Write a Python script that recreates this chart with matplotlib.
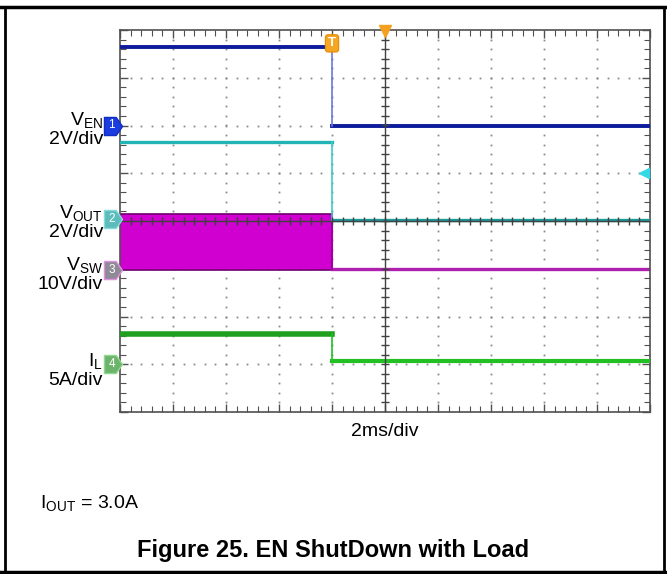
import numpy as np
import matplotlib
matplotlib.use('Agg')
import matplotlib.pyplot as plt
from matplotlib.path import Path

plt.rcParams['font.family'] = ['Liberation Sans', 'DejaVu Sans']
plt.rcParams['mathtext.fontset'] = 'custom'
plt.rcParams['mathtext.rm'] = 'Liberation Sans'
plt.rcParams['mathtext.it'] = 'Liberation Sans'

# scope screen is 10 x 8 divisions, time of EN falling edge in divisions
t_edge = 4.0
t_end = 10.0

# channel levels in divisions (before edge, after edge)
ven_level = [7.65, 6.0]
vout_level = [5.65, 4.03]
vsw_low = [2.97, 3.0]
vsw_high = 4.15
il_level = [1.64, 1.06]

# channel ground markers (divisions)
ch_names = ['1', '2', '3', '4']
ch_ground = [6.0, 4.05, 2.97, 1.0]
ch_face = ['#1a3ce0', '#5cbcbc', '#8e8a96', '#6cb46c']
ch_edge = ['#1030c0', '#88dada', '#e090e0', '#90d890']

labels = [r'$\mathrm{V_{EN}}$' + '\n2V/div',
          r'$\mathrm{V_{OUT}}$' + '\n2V/div',
          r'$\mathrm{V_{SW}}$' + '\n10V/div',
          r'$\mathrm{I_{L}}$' + '\n5A/div']
label_y = [129, 222, 274, 370]

fig = plt.figure(figsize=(6.67, 5.74), dpi=100)
W, H = 667, 574
ax = fig.add_axes([120 / W, 1 - 412 / H, 530 / W, 382 / H])
ax.set_xlim(0, 10)
ax.set_ylim(0, 8)

# graticule dots
for gx in range(1, 10):
    if gx == 5:
        continue
    ys = np.arange(0.2, 8, 0.2)
    ax.plot(np.full_like(ys, gx), ys, ls='none', marker='s', ms=1.3,
            color='#8a8a8a', mew=0, zorder=1)
for gy in range(1, 8):
    if gy == 4:
        continue
    xs = np.arange(0.2, 10, 0.2)
    ax.plot(xs, np.full_like(xs, gy), ls='none', marker='s', ms=1.3,
            color='#8a8a8a', mew=0, zorder=1)

# traces
ax.plot([0, t_edge], [ven_level[0]] * 2, color='#0c1c9c', lw=2.8, zorder=3)
ax.plot([t_edge, t_end], [ven_level[1]] * 2, color='#0c1c9c', lw=2.8, zorder=3)
ax.plot([t_edge, t_edge], ven_level, color='#6a78d8', lw=1.2, zorder=3)

ax.plot([0, t_edge], [vout_level[0]] * 2, color='#22b4b4', lw=2.4, zorder=3)
ax.plot([t_edge, t_end], [vout_level[1]] * 2, color='#1a9a9a', lw=2.4, zorder=3)
ax.plot([t_edge, t_edge], vout_level, color='#40c8c8', lw=1.2, zorder=3)

ax.fill_between([0, t_edge], [vsw_low[0]] * 2, [vsw_high] * 2,
                color='#d000d0', lw=0, zorder=2)
ax.plot([0, t_edge], [vsw_high] * 2, color='#700070', lw=1.2, zorder=2)
ax.plot([0, t_edge], [vsw_low[0]] * 2, color='#700070', lw=1.2, zorder=2)
ax.plot([t_edge, t_end], [vsw_low[1]] * 2, color='#b020b0', lw=2.4, zorder=2)
ax.plot([t_edge, t_edge], [vsw_low[1], vsw_high], color='#a000a0', lw=1.5, zorder=2)

ax.plot([0, t_edge], [il_level[0]] * 2, color='#1fa01f', lw=4.0, zorder=3)
ax.plot([t_edge, t_end], [il_level[1]] * 2, color='#22c022', lw=3.0, zorder=3)
ax.plot([t_edge, t_edge], il_level, color='#22c022', lw=1.2, zorder=3)

# centre cross with ticks
ax.axvline(5, color='#404040', lw=1, zorder=4)
ax.axhline(4, color='#404040', lw=1, zorder=4)
ys = np.arange(0.2, 8, 0.2)
ax.plot(np.full_like(ys, 5), ys, ls='none', marker='_', ms=6, mew=1,
        color='#404040', zorder=4)
xs = np.arange(0.2, 10, 0.2)
ax.plot(xs, np.full_like(xs, 4), ls='none', marker='|', ms=6, mew=1,
        color='#404040', zorder=4)

# frame ticks
ax.set_xticks(np.arange(0, 10.01, 1))
ax.set_xticks(np.arange(0, 10.01, 0.2), minor=True)
ax.set_yticks(np.arange(0, 8.01, 1))
ax.set_yticks(np.arange(0, 8.01, 0.2), minor=True)
ax.tick_params(which='both', direction='in', top=True, right=True,
               color='#505050', labelbottom=False, labelleft=False)
ax.tick_params(which='major', length=6, width=1)
ax.tick_params(which='minor', length=4, width=0.8)
for s in ax.spines.values():
    s.set_color('#505050')
    s.set_linewidth(1.2)

# channel tags on the left
tag = Path([(-1, 1), (0.3, 1), (1, 0), (0.3, -1), (-1, -1), (-1, 1)],
           [Path.MOVETO, Path.LINETO, Path.LINETO, Path.LINETO, Path.LINETO,
            Path.CLOSEPOLY])
for n, g, fc, ec in zip(ch_names, ch_ground, ch_face, ch_edge):
    ax.plot(-0.13, g, marker=tag, ms=13, mfc=fc, mec=ec, mew=1,
            clip_on=False, zorder=6)
    ax.text(-0.16, g, n, color='white', fontsize=8.5, ha='center',
            va='center', clip_on=False, zorder=7)

# trigger markers
ax.plot(5, 7.97, marker='v', ms=8, color='#f5a020', clip_on=False, zorder=6)
ax.text(t_edge, 7.72, 'T', color='white', fontsize=9.5, fontweight='bold',
        ha='center', va='center', zorder=7,
        bbox=dict(boxstyle='round,pad=0.2', fc='#f5a623', ec='#e88a00', lw=0.8))
ax.plot(9.88, 5.0, marker='<', ms=7, color='#30d8e8', zorder=6)

# labels
for txt, y in zip(labels, label_y):
    fig.text(103 / W, 1 - y / H, txt, fontsize=14, ha='right', va='center',
             linespacing=1.1)

fig.text(385 / W, 1 - 431 / H, '2ms/div', fontsize=14, ha='center', va='center')
fig.text(40 / W, 1 - 503 / H, r'$\mathrm{I_{OUT}}$ = 3.0A', fontsize=14,
         ha='left', va='center')
fig.text(333 / W, 1 - 551 / H, 'Figure 25. EN ShutDown with Load', fontsize=17,
         fontweight='bold', ha='center', va='center')

# table borders
fig.add_artist(plt.Line2D([0, 1], [1 - 7 / H] * 2, color='black', lw=2.5,
                          transform=fig.transFigure))
fig.add_artist(plt.Line2D([0, 1], [1 - 572 / H] * 2, color='black', lw=2.5,
                          transform=fig.transFigure))
fig.add_artist(plt.Line2D([5 / W] * 2, [0, 1 - 7 / H], color='black', lw=2,
                          transform=fig.transFigure))
fig.add_artist(plt.Line2D([664 / W] * 2, [0, 1 - 7 / H], color='black', lw=2,
                          transform=fig.transFigure))

fig.savefig('out.png', dpi=100)
